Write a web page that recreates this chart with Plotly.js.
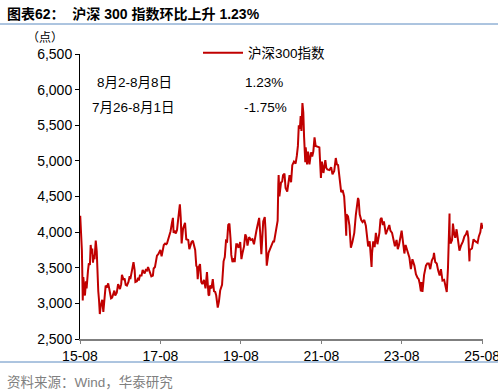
<!DOCTYPE html>
<html>
<head>
<meta charset="utf-8">
<script src="https://cdn.plot.ly/plotly-3.0.1.min.js"></script>
<style>body{margin:0;padding:0;background:#fff}#chart{width:498px;height:392px}</style>
</head>
<body>
<div id="chart"></div>
<script>
const dates = [
"2015-08-03","2015-08-07","2015-08-14","2015-08-18","2015-08-21","2015-08-26","2015-08-31","2015-09-07","2015-09-15","2015-09-24","2015-09-30","2015-10-12","2015-10-20","2015-10-30","2015-11-06","2015-11-13","2015-11-20","2015-11-27","2015-12-04","2015-12-11","2015-12-22","2015-12-31",
"2016-01-07","2016-01-14","2016-01-21","2016-01-28","2016-02-05","2016-02-19","2016-02-29","2016-03-10","2016-03-21","2016-03-31","2016-04-13","2016-04-22","2016-04-29","2016-05-09","2016-05-19","2016-05-31","2016-06-08","2016-06-16","2016-06-30","2016-07-12","2016-07-22","2016-07-29","2016-08-09","2016-08-16","2016-08-31","2016-09-09","2016-09-19","2016-09-30","2016-10-14","2016-10-25","2016-10-31","2016-11-10","2016-11-21","2016-11-29","2016-12-09","2016-12-16","2016-12-30",
"2017-01-10","2017-01-16","2017-01-26","2017-02-10","2017-02-20","2017-02-28","2017-03-10","2017-03-20","2017-03-31","2017-04-10","2017-04-20","2017-05-10","2017-05-24","2017-05-31","2017-06-12","2017-06-22","2017-06-30","2017-07-12","2017-07-24","2017-07-31","2017-08-11","2017-08-22","2017-08-31","2017-09-12","2017-09-22","2017-09-29","2017-10-13","2017-10-25","2017-10-31","2017-11-13","2017-11-22","2017-11-28","2017-12-08","2017-12-18","2017-12-29",
"2018-01-10","2018-01-19","2018-01-24","2018-02-01","2018-02-09","2018-02-22","2018-03-12","2018-03-23","2018-03-30","2018-04-10","2018-04-20","2018-05-10","2018-05-22","2018-05-31","2018-06-12","2018-06-22","2018-06-29","2018-07-05","2018-07-13","2018-07-26","2018-08-06","2018-08-16","2018-08-31","2018-09-14","2018-09-27","2018-10-11","2018-10-18","2018-10-24","2018-11-07","2018-11-19","2018-11-30","2018-12-11","2018-12-20",
"2019-01-03","2019-01-14","2019-01-25","2019-02-11","2019-02-25","2019-03-08","2019-03-19","2019-03-29","2019-04-08","2019-04-19","2019-04-29","2019-05-06","2019-05-17","2019-05-31","2019-06-06","2019-06-20","2019-06-28","2019-07-10","2019-07-26","2019-08-06","2019-08-15","2019-08-30","2019-09-10","2019-09-20","2019-09-30","2019-10-15","2019-10-31","2019-11-14","2019-11-28","2019-12-10","2019-12-20","2019-12-31",
"2020-01-14","2020-01-23","2020-02-03","2020-02-20","2020-03-05","2020-03-12","2020-03-23","2020-04-08","2020-04-27","2020-05-20","2020-05-29","2020-06-12","2020-06-30","2020-07-06","2020-07-09","2020-07-16","2020-07-31","2020-08-10","2020-08-18","2020-08-31","2020-09-10","2020-09-25","2020-10-16","2020-10-30","2020-11-10","2020-11-25","2020-12-10","2020-12-21","2020-12-31",
"2021-01-08","2021-01-18","2021-01-25","2021-02-01","2021-02-10","2021-02-18","2021-02-25","2021-03-08","2021-03-12","2021-03-24","2021-04-02","2021-04-15","2021-04-29","2021-05-10","2021-05-20","2021-05-31","2021-06-10","2021-06-25","2021-07-07","2021-07-14","2021-07-28","2021-08-06","2021-08-20","2021-09-06","2021-09-15","2021-09-24","2021-10-13","2021-10-29","2021-11-10","2021-11-26","2021-12-10","2021-12-20","2021-12-31",
"2022-01-14","2022-01-28","2022-02-10","2022-02-24","2022-03-08","2022-03-15","2022-03-17","2022-03-31","2022-04-13","2022-04-26","2022-05-10","2022-05-27","2022-06-10","2022-06-30","2022-07-06","2022-07-15","2022-07-29","2022-08-10","2022-08-26","2022-09-09","2022-09-30","2022-10-14","2022-10-31","2022-11-04","2022-11-15","2022-11-28","2022-12-09","2022-12-23",
"2023-01-10","2023-01-20","2023-01-30","2023-02-10","2023-02-20","2023-03-10","2023-03-24","2023-04-10","2023-04-20","2023-05-05","2023-05-31","2023-06-15","2023-06-26","2023-07-07","2023-07-31","2023-08-10","2023-08-25","2023-09-05","2023-09-28","2023-10-10","2023-10-23","2023-11-06","2023-11-24","2023-12-08","2023-12-22",
"2024-01-02","2024-01-12","2024-01-22","2024-01-26","2024-02-05","2024-02-20","2024-03-08","2024-03-20","2024-04-03","2024-04-16","2024-04-30","2024-05-15","2024-05-20","2024-05-31","2024-06-14","2024-06-27","2024-07-10","2024-07-22","2024-08-05","2024-08-20","2024-09-02","2024-09-13","2024-09-24","2024-09-30","2024-10-08","2024-10-09","2024-10-17","2024-10-31","2024-11-08","2024-11-20","2024-11-29","2024-12-11","2024-12-20",
"2025-01-06","2025-01-20","2025-02-07","2025-02-20","2025-03-06","2025-03-18","2025-03-28","2025-04-07","2025-04-10","2025-04-30","2025-05-14","2025-05-23","2025-06-06","2025-06-20","2025-07-01","2025-07-15","2025-07-25","2025-07-31","2025-08-01","2025-08-08"
];
const csi300 = [
4230,4080,4070,3750,3510,3040,3370,3190,3110,3310,3210,3450,3560,3540,3820,3700,3770,3570,3680,3620,3880,3730,
3290,3170,3040,2850,2960,3050,2880,3030,3250,3220,3280,3210,3160,3070,3080,3170,3180,3110,3150,3270,3240,3200,3270,3400,3330,3350,3260,3250,3300,3380,3340,3450,3510,3580,3470,3300,3310,
3360,3320,3390,3390,3470,3450,3420,3470,3460,3510,3460,3380,3390,3490,3510,3590,3670,3690,3720,3750,3660,3760,3820,3840,3830,3840,3910,3990,4010,4130,4200,3990,4020,3980,4030,
4200,4300,4390,4200,3840,4050,4130,3900,3900,3890,3760,3860,3880,3800,3750,3530,3510,3340,3500,3550,3300,3270,3330,3210,3440,3120,3110,3250,3210,3340,3170,3160,3110,
2940,3030,3180,3260,3590,3650,3880,3870,4100,4120,3910,3680,3580,3630,3580,3830,3830,3780,3860,3620,3700,3800,3970,3930,3810,3930,3890,3900,3830,3910,4020,4100,
4200,4000,3690,4150,4210,4030,3530,3710,3780,3870,3870,3990,4160,4670,4800,4500,4700,4710,4800,4820,4620,4570,4800,4700,4940,4990,4960,5070,5210,
5500,5450,5630,5420,5810,5680,5340,4980,5190,4950,5130,4950,5120,5060,5130,5330,5210,5200,5200,5190,4760,4990,4830,5010,4900,4880,4870,4910,4810,4860,5040,4950,4940,
4730,4560,4590,4500,4210,3950,4250,4220,4090,3780,3860,3990,4240,4480,4450,4250,4170,4140,4170,4090,3800,3870,3510,3700,3870,3790,3990,3830,
3990,4180,4200,4100,4150,3970,4030,4100,4020,3990,3800,3890,3760,3820,4020,3860,3700,3820,3690,3640,3480,3620,3530,3410,3360,
3340,3270,3170,3300,3160,3400,3530,3560,3560,3480,3600,3650,3710,3580,3560,3460,3390,3480,3320,3330,3250,3160,3500,4020,4260,3960,3840,3890,4120,3970,3920,4040,3950,
3740,3810,3870,3940,3970,4020,3920,3590,3750,3770,3900,3880,3870,3850,3940,4000,4130,4080,4050,4100
];
const seriesName = "沪深300指数";
const tableRows = ["8月2-8月8日", "7月26-8月1日"];
const tableValues = ["1.23%", "-1.75%"];
const yTicks = [2500,3000,3500,4000,4500,5000,5500,6000,6500];

const FONT = "Liberation Sans, Arial, Noto Sans CJK SC, sans-serif";

const trace = {
  x: dates, y: csi300, type: "scatter", mode: "lines", name: seriesName,
  line: {color: "#c00000", width: 2}
};

const annotations = [
  {xref:"paper", yref:"paper", x:-0.1985+5/403, y:(339-14)/285, xanchor:"left", yanchor:"middle",
   text:"<b>图表62：  沪深 300 指数环比上升 1.23%</b>", showarrow:false,
   font:{family:FONT, size:14, color:"#000"}},
  {xref:"paper", yref:"paper", x:(45-80)/403, y:(339-38)/285, xanchor:"center", yanchor:"middle",
   text:"（点）", showarrow:false, font:{family:FONT, size:12, color:"#000"}},
  {xref:"paper", yref:"paper", x:-0.1985+5/403, y:(339-382)/285, xanchor:"left", yanchor:"middle",
   text:"资料来源：Wind，华泰研究", showarrow:false, font:{family:FONT, size:13.5, color:"#808080"}},
  {xref:"paper", yref:"paper", x:(95-80)/403, y:(339-82)/285, xanchor:"left", yanchor:"middle",
   text:tableRows[0], showarrow:false, font:{family:FONT, size:13.5, color:"#000"}},
  {xref:"paper", yref:"paper", x:(243-80)/403, y:(339-82)/285, xanchor:"left", yanchor:"middle",
   text:tableValues[0], showarrow:false, font:{family:FONT, size:13.5, color:"#000"}},
  {xref:"paper", yref:"paper", x:(90-80)/403, y:(339-107)/285, xanchor:"left", yanchor:"middle",
   text:tableRows[1], showarrow:false, font:{family:FONT, size:13.5, color:"#000"}},
  {xref:"paper", yref:"paper", x:(242-80)/403, y:(339-107)/285, xanchor:"left", yanchor:"middle",
   text:tableValues[1], showarrow:false, font:{family:FONT, size:13.5, color:"#000"}}
];

const shapes = [
  {type:"line", xref:"paper", yref:"paper", x0:-0.1985, x1:1.04, y0:(339-24)/285, y1:(339-24)/285,
   line:{color:"#5b8ac0", width:1}},
  {type:"line", xref:"paper", yref:"paper", x0:-0.1985, x1:1.04, y0:(339-362)/285, y1:(339-362)/285,
   line:{color:"#5b8ac0", width:1}}
];

const layout = {
  width: 498, height: 392,
  margin: {l:80, r:15, t:54, b:53},
  paper_bgcolor: "#fff", plot_bgcolor: "#fff",
  font: {family: FONT, size: 14, color: "#000"},
  showlegend: true,
  legend: {x:(198-80)/403, y:(339-53)/285, xanchor:"left", yanchor:"middle", bgcolor:"rgba(0,0,0,0)",
           font:{family:FONT, size:13.5, color:"#000"}, itemwidth:40},
  xaxis: {
    type: "date", range: ["2015-08-01", "2025-08-08"],
    tick0: "2015-08-01", dtick: "M24", tickformat: "%y-%m", ticklabeloverflow: "allow",
    showgrid: false, zeroline: false, showline: true, linecolor: "#7f7f7f", linewidth: 2,
    ticks: "outside", ticklen: 3, tickcolor: "#7f7f7f", tickfont: {size: 14, color: "#000"}
  },
  yaxis: {
    range: [2500, 6500], tickvals: yTicks, tickformat: ",",
    showgrid: false, zeroline: false, showline: true, linecolor: "#000", linewidth: 1,
    ticks: "outside", ticklen: 4, tickcolor: "#000", tickfont: {size: 14, color: "#000"}
  },
  annotations: annotations,
  shapes: shapes
};

Plotly.newPlot("chart", [trace], layout, {displayModeBar:false, staticPlot:true});
</script>
</body>
</html>
